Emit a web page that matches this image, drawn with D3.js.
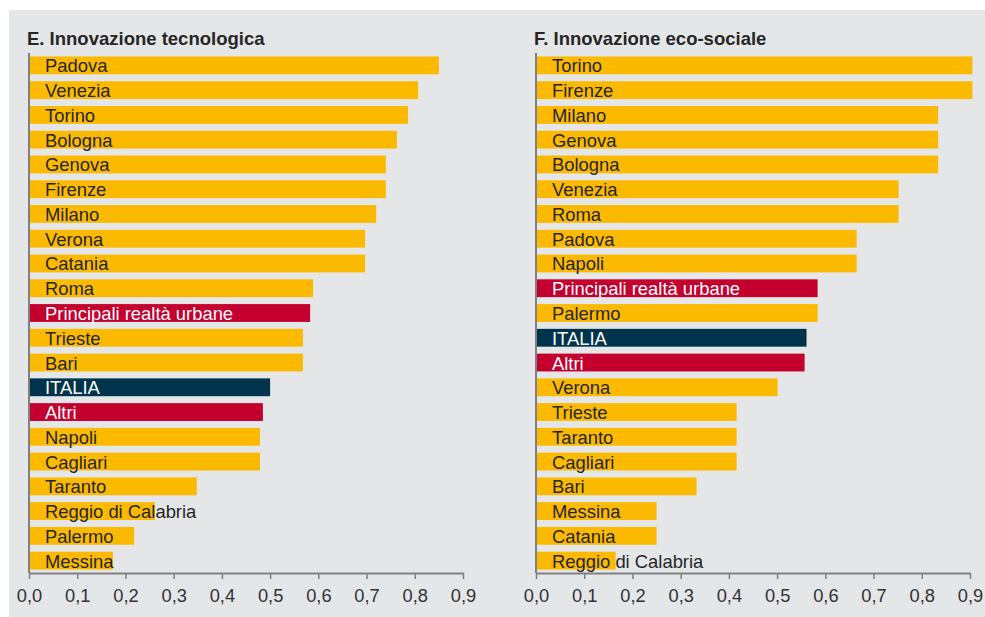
<!DOCTYPE html>
<html><head><meta charset="utf-8">
<script src="https://cdn.jsdelivr.net/npm/d3@7"></script>
<style>body{margin:0;background:#fff}svg{display:block}text{font-family:"Liberation Sans",Arial,sans-serif}</style>
</head><body><svg id="c" width="985" height="617"></svg>
<script>
const titleE = "E. Innovazione tecnologica";
const catsE = ["Padova","Venezia","Torino","Bologna","Genova","Firenze","Milano","Verona","Catania","Roma","Principali realtà urbane","Trieste","Bari","ITALIA","Altri","Napoli","Cagliari","Taranto","Reggio di Calabria","Palermo","Messina"];
const valsE = [0.850,0.807,0.786,0.763,0.740,0.740,0.720,0.697,0.697,0.589,0.583,0.568,0.568,0.500,0.485,0.479,0.479,0.348,0.261,0.218,0.174];
const titleF = "F. Innovazione eco-sociale";
const catsF = ["Torino","Firenze","Milano","Genova","Bologna","Venezia","Roma","Padova","Napoli","Principali realtà urbane","Palermo","ITALIA","Altri","Verona","Trieste","Taranto","Cagliari","Bari","Messina","Catania","Reggio di Calabria"];
const valsF = [0.905,0.905,0.834,0.834,0.834,0.752,0.752,0.665,0.665,0.584,0.584,0.561,0.557,0.501,0.416,0.416,0.416,0.333,0.250,0.250,0.165];
const ticks = [0,0.1,0.2,0.3,0.4,0.5,0.6,0.7,0.8,0.9];
const tickLabels = ["0,0","0,1","0,2","0,3","0,4","0,5","0,6","0,7","0,8","0,9"];

const colorFor = c => c === "ITALIA" ? "#00344c" : (c === "Principali realtà urbane" || c === "Altri") ? "#c4002f" : "#fbba00";
const textFor = c => colorFor(c) === "#fbba00" ? "#262626" : "#fff";

const svg = d3.select("#c");
svg.append("rect").attr("x",9).attr("y",10).attr("width",976).attr("height",607).attr("fill","#e5e6e8");

function panel(x0, title, cats, vals) {
  const x = d3.scaleLinear().domain([0,0.9]).range([x0, x0+434]);
  const y = d3.scaleBand().domain(cats).range([53, 573]).paddingInner(0.28).paddingOuter(0.14);
  const g = svg.append("g");
  g.append("text").attr("x", x0-2).attr("y", 45).attr("font-size", 18.5).attr("font-weight","bold").attr("fill","#262626").text(title);
  g.selectAll("rect.bar").data(cats).join("rect").attr("class","bar")
    .attr("x", x(0)).attr("y", d=>y(d)).attr("width", (d,i)=>x(vals[i])-x(0)).attr("height", y.bandwidth())
    .attr("fill", d=>colorFor(d));
  g.selectAll("text.lab").data(cats).join("text").attr("class","lab")
    .attr("x", x(0)+16).attr("y", d=>y(d)+y.bandwidth()/2).attr("dy","0.38em")
    .attr("font-size",18.4).attr("fill", d=>textFor(d)).text(d=>d);
  const ax = d3.axisBottom(x).tickValues(ticks).tickFormat((d,i)=>tickLabels[i]).tickSize(6).tickSizeOuter(0);
  const a = g.append("g").attr("transform",`translate(0,573)`).call(ax);
  a.select(".domain").attr("stroke","#808080").attr("stroke-width",2);
  a.selectAll(".tick line").attr("stroke","#808080").attr("stroke-width",1.5);
  a.selectAll(".tick text").attr("font-size",18.3).attr("fill","#333").attr("y",29).attr("dy",0).attr("font-family","\"Liberation Sans\",Arial,sans-serif");
  g.append("line").attr("x1",x0).attr("x2",x0).attr("y1",53).attr("y2",573).attr("stroke","#808080").attr("stroke-width",2);
}
panel(29, titleE, catsE, valsE);
panel(536, titleF, catsF, valsF);
</script></body></html>
